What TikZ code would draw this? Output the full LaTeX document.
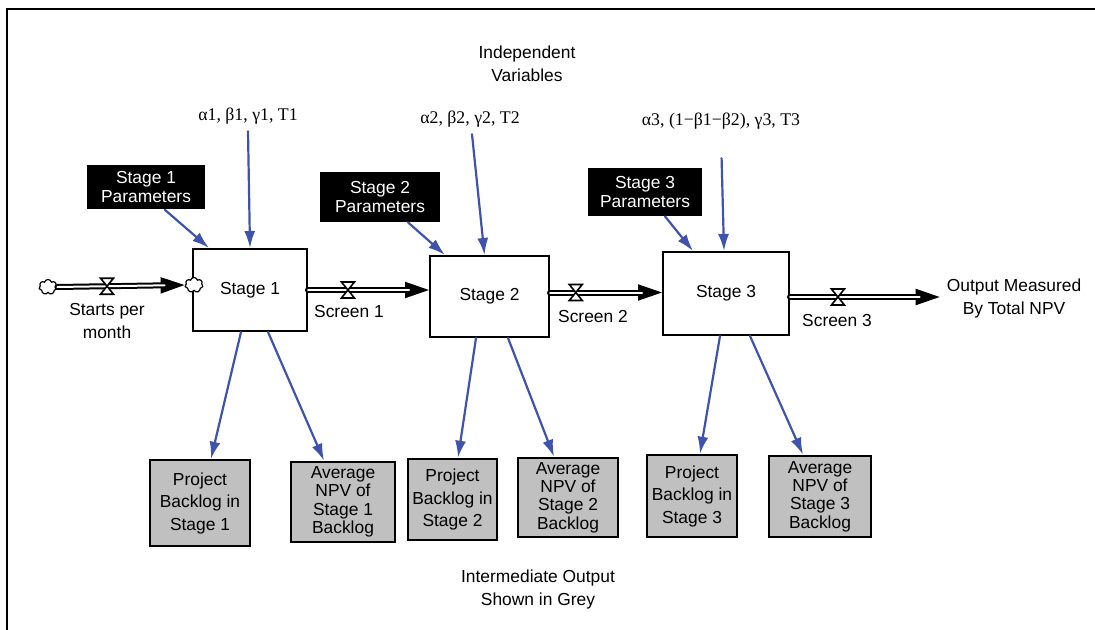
\documentclass[tikz,border=0pt]{standalone}
\usepackage{fontspec}
\setmainfont{Liberation Serif}
\setsansfont{Liberation Sans}
\usetikzlibrary{arrows.meta,shapes.symbols}
\definecolor{linkblue}{RGB}{63,83,172}
\definecolor{outgrey}{RGB}{192,192,192}
\def\lblfont{\sffamily\fontsize{8.7}{11.5}\selectfont}
\def\boxfont{\sffamily\fontsize{8.7}{9.5}\selectfont}
\def\greekfont{\rmfamily\fontsize{8.9}{11}\selectfont}

\begin{document}
\begin{tikzpicture}[x=0.5pt,y=-0.5pt,line cap=round,
  stagebox/.style={draw,line width=1pt,fill=white,inner sep=0pt,font=\lblfont},
  parambox/.style={fill=black,text=white,align=center,inner sep=0pt,minimum width=59pt,minimum height=22pt,font=\boxfont},
  outbox/.style={draw,line width=1.3pt,fill=outgrey,align=center,inner sep=0pt},
  link/.style={linkblue,line width=1.1pt,-{Latex[length=8.5pt,width=5.5pt]}},
  pipetip/.style={line width=1pt,-{Triangle[length=12pt,width=8pt]}},
  pipe/.style={double,double distance=1pt,line width=1pt,shorten >=10pt},
  lbl/.style={font=\lblfont,align=center},
  valve/.pic={\draw[fill=white,line width=0.8pt,line join=miter] (-6.5,-8) -- (6.5,-8) -- (-6.5,8) -- (6.5,8) -- cycle;},
  puff/.style={cloud,cloud puffs=7,draw,fill=white,line width=0.6pt,minimum width=9pt,minimum height=7.5pt,inner sep=0pt}]
  \useasboundingbox (0,0) rectangle (1095,630);
  \draw[line width=1.3pt,line cap=butt] (7,630) -- (7,9) -- (1095,9); % frame

  % stages
  \node[stagebox,minimum width=57pt,minimum height=41pt] (s1) at (250,290) {Stage 1};
  \node[stagebox,minimum width=59.5pt,minimum height=40.5pt] (s2) at (489.5,296.5) {Stage 2};
  \node[stagebox,minimum width=63pt,minimum height=41.5pt] (s3) at (726,293.5) {Stage 3};

  % parameters
  \node[parambox] (p1) at (146,187.5) {Stage 1\\Parameters};
  \node[parambox,minimum width=60pt,minimum height=25pt] (p2) at (380,197) {Stage 2\\Parameters};
  \node[parambox,minimum width=57pt,minimum height=24pt] (p3) at (645,192) {Stage 3\\Parameters};
  \node[font=\greekfont] (g1) at (248,116) {α1, β1, γ1, T1};
  \node[font=\greekfont] (g2) at (470,119) {α2, β2, γ2, T2};
  \node[font=\greekfont] (g3) at (721,121) {α3, (1−β1−β2), γ3, T3};
  \node[lbl] (iv) at (527,64) {Independent\\Variables};

  \draw[link] (g1.south) -- (s1.north);
  \draw[link] ([xshift=1pt]g2.south) -- ([xshift=-2.5pt]s2.north);
  \draw[link,shorten <=11pt] (g3.south) -- ([xshift=-1pt]s3.north);
  \draw[link] ([xshift=9.5pt]p1.south) -- ([xshift=8.5pt]s1.north west);
  \draw[link] ([xshift=14pt]p2.south) -- ([xshift=8pt]s2.north west);
  \draw[link] ([xshift=10pt]p3.south) -- ([xshift=15.5pt]s3.north west);

  % flows
  \node[puff] (c0) at (48,287) {};
  \node[puff] (c1) at (194,285) {};
  \node[lbl] (out) at (1014,299) {Output Measured\\By Total NPV};
  \draw[pipetip] (c0.east) -- (c1.west);
  \draw[pipe] (c0.east) -- (c1.west) coordinate[pos=0.39] (v0);
  \draw[pipetip] (s1.east) -- (s1.east -| s2.west);
  \draw[pipe] (s1.east) -- (s1.east -| s2.west) coordinate[pos=0.33] (v1);
  \draw[pipetip] ([yshift=2pt]s2.east) -- ([yshift=2pt]s2.east -| s3.west);
  \draw[pipe] ([yshift=2pt]s2.east) -- ([yshift=2pt]s2.east -| s3.west) coordinate[pos=0.23] (v2);
  \draw[pipetip] ([yshift=-1.75pt]s3.east) -- ([yshift=-1.75pt]s3.east -| out.west);
  \draw[pipe] ([yshift=-1.75pt]s3.east) -- ([yshift=-1.75pt]s3.east -| out.west) coordinate[pos=0.32] (v3);
  \foreach \v in {v0,v1,v2,v3} \pic at (\v) {valve};
  \node[lbl] (f0) at (107,321.5) {Starts per\\month};
  \node[lbl] (f1) at (349,312) {Screen 1};
  \node[lbl] (f2) at (593,317) {Screen 2};
  \node[lbl] (f3) at (837,321) {Screen 3};

  % intermediate output
  \foreach \nm/\cx/\cy/\w/\h/\ls/\txt in {
      b1/200/503/100/86/11.25/{Project\\Backlog in\\Stage 1},
      a1/343/502/104/80/9.2/{Average\\NPV of\\Stage 1\\Backlog},
      b2/452.5/499.5/89/81/11.25/{Project\\Backlog in\\Stage 2},
      a2/568/497.5/100/79/9.2/{Average\\NPV of\\Stage 2\\Backlog},
      b3/692/496/90/82/11.25/{Project\\Backlog in\\Stage 3},
      a3/820/496.5/102/81/9.2/{Average\\NPV of\\Stage 3\\Backlog}} {
    \node[outbox,minimum width=\w*0.5pt,minimum height=\h*0.5pt,font=\sffamily\fontsize{8.7}{\ls}\selectfont] (\nm) at (\cx,\cy) {\txt};
  }
  \foreach \s/\sa/\t/\ta in {s1/-4.5/b1/5.5, s1/9/a1/-9.5, s2/-6.75/b2/2.75, s2/9.25/a2/-7, s3/-3/b3/4, s3/12/a3/-8.5}
    \draw[link] ([xshift=\sa pt]\s.south) -- ([xshift=\ta pt]\t.north);
  \node[lbl] (io) at (538,589) {Intermediate Output\\Shown in Grey};
\end{tikzpicture}
\end{document}
